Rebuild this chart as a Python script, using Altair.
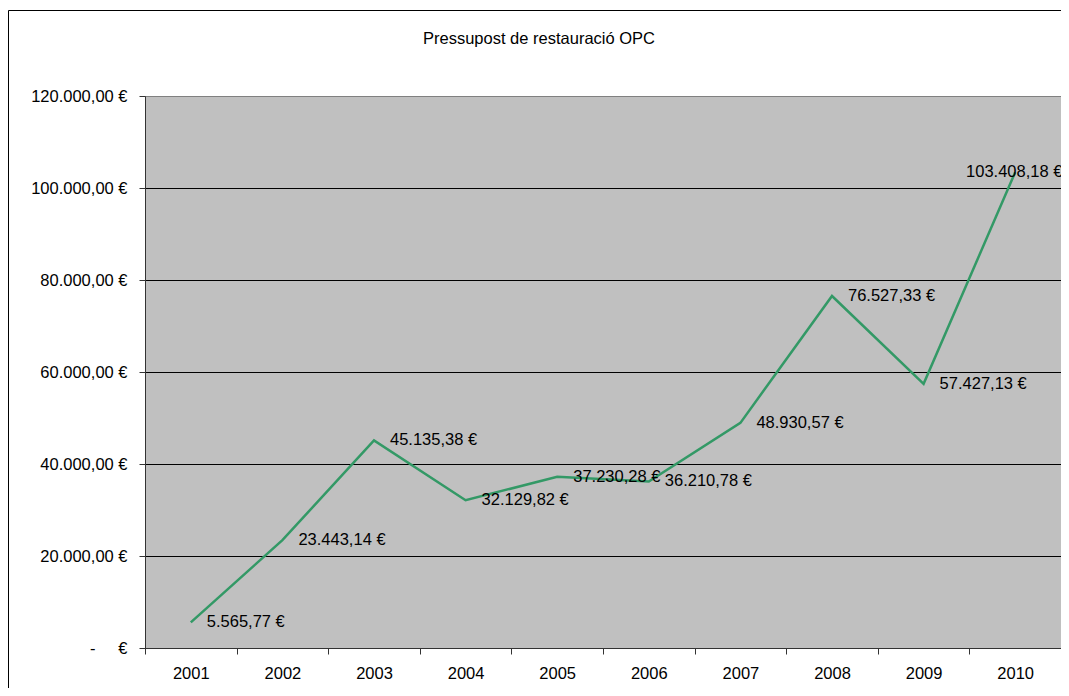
import altair as alt
import pandas as pd

years = ["2001", "2002", "2003", "2004", "2005", "2006", "2007", "2008", "2009", "2010"]
values = [5565.77, 23443.14, 45135.38, 32129.82, 37230.28, 36210.78, 48930.57, 76527.33, 57427.13, 103408.18]
y_ticks = [0, 20000, 40000, 60000, 80000, 100000, 120000]
title_text = "Pressupost de restauració OPC"


def fmt(v):
    s = f"{v:,.2f}".replace(",", "#").replace(".", ",").replace("#", ".")
    return s + " €"


df = pd.DataFrame({"year": years, "value": values, "label": [fmt(v) for v in values]})

FONT = "Liberation Sans"
FS = 16.5

label_expr = (
    "datum.value == 0 ? '-\u00a0\u00a0\u00a0\u00a0\u00a0€' : "
    "replace(replace(replace(format(datum.value, ',.2f'), regexp('[,]', 'g'), '#'), "
    "regexp('[.]', 'g'), ','), regexp('#', 'g'), '.') + ' €'"
)

x_enc = alt.X(
    "year:N",
    bandPosition=0.5,
    scale=alt.Scale(type="band", paddingInner=0, paddingOuter=0),
    axis=alt.Axis(
        title=None, labelAngle=0, tickBand="extent", tickSize=6, labelPadding=11,
        domainColor="#333333", tickColor="#333333", labelFont=FONT, labelFontSize=FS,
        labelColor="black", grid=False,
    ),
)
y_enc = alt.Y(
    "value:Q",
    scale=alt.Scale(domain=[0, 120000], nice=False, zero=True),
    axis=alt.Axis(
        title=None, values=y_ticks, labelExpr=label_expr, grid=True,
        gridColor={"condition": {"test": "datum.value == 120000", "value": "#808080"}, "value": "black"},
        gridWidth=1, tickSize=6, labelPadding=12, domainColor="#333333", tickColor="#333333",
        labelFont=FONT, labelFontSize=FS, labelColor="black",
    ),
)

base = alt.Chart(df)
line = base.mark_line(color="#339966", strokeWidth=2.5).encode(x=x_enc, y=y_enc)
labels = base.mark_text(align="left", baseline="middle", dx=16, font=FONT, fontSize=FS, color="black").encode(
    x=alt.X("year:N", bandPosition=0.5), y="value:Q", text="label:N"
).transform_filter(alt.datum.year != "2010")
last_label = base.mark_text(align="center", baseline="middle", dx=-1, font=FONT, fontSize=FS, color="black").encode(
    x=alt.X("year:N", bandPosition=0.5), y="value:Q", text="label:N"
).transform_filter(alt.datum.year == "2010")

frame = alt.Chart(alt.Data(values=[{}])).mark_rect(filled=False, stroke="black", strokeWidth=1).encode(
    x=alt.value(-136.5), x2=alt.value(1000), y=alt.value(-85.5), y2=alt.value(700)
)
title = alt.Chart(alt.Data(values=[{"t": title_text}])).mark_text(
    align="center", baseline="alphabetic", font=FONT, fontSize=FS, color="black"
).encode(x=alt.value(394), y=alt.value(-52), text="t:N")

chart = alt.layer(line, labels, last_label, frame, title).properties(
    width=916, height=552,
    padding={"left": 137, "top": 88, "right": 0, "bottom": 40},
    autosize=alt.AutoSizeParams(type="none"),
    background="white",
).configure_view(fill="#C0C0C0", stroke="#808080", strokeWidth=1)

chart.save("out.html", embed_options={"renderer": "svg", "actions": False})
